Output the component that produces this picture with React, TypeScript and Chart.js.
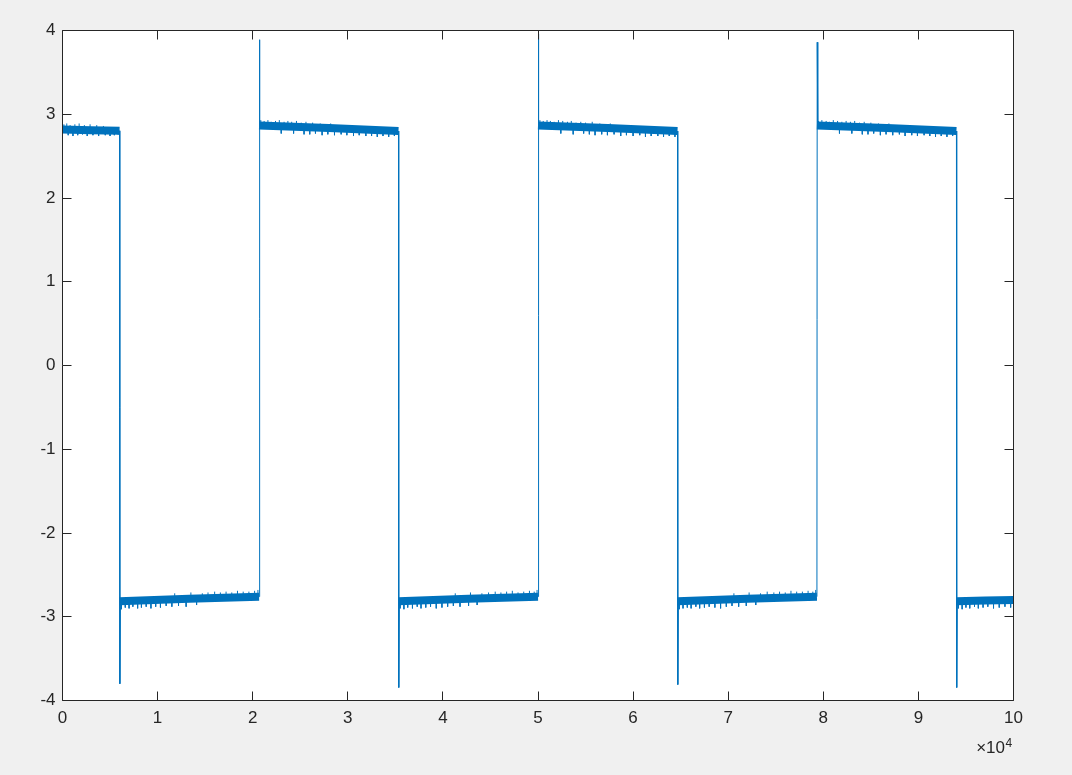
import React, { useEffect, useRef } from "react";
import { Chart, registerables } from "chart.js";

Chart.register(...registerables);

// ---- axis ticks ----
const xTickValues = [0, 10000, 20000, 30000, 40000, 50000, 60000, 70000, 80000, 90000, 100000];
const xTickLabels = ["0", "1", "2", "3", "4", "5", "6", "7", "8", "9", "10"];
const yTickValues = [-4, -3, -2, -1, 0, 1, 2, 3, 4];
const xExponentLabel = "×10";
const xExponent = "4";

// ---- signal level segments (sample index, value) ----
const segStart = [0, 6000, 20670, 35330, 50000, 64670, 79330, 94000];
const segMid = [3000, 13300, 28000, 42660, 57330, 72000, 86660, 97000];
const segEnd = [6000, 20670, 35330, 50000, 64670, 79330, 94000, 100000];
const levelStart = [2.818, -2.815, 2.865, -2.815, 2.865, -2.815, 2.865, -2.815];
const levelMid = [2.81, -2.785, 2.835, -2.785, 2.835, -2.785, 2.835, -2.805];
const levelEnd = [2.803, -2.76, 2.8, -2.76, 2.8, -2.76, 2.8, -2.8];

// ---- switching edges with overshoot spikes ----
const edgeX = [6000, 20670, 35330, 50000, 64670, 79330, 94000];
const edgePeakX = [6030, 20700, 35360, 50030, 64700, 79360, 94030];
const edgePeak = [-3.8, 3.89, -3.845, 3.96, -3.81, 3.86, -3.845];
const edgeSettleX = [6090, 20760, 35420, 50090, 64760, 79420, 94090];

// ---- noise excursions per segment: [sample, tip value] ----
const noiseBase = [2.81, -2.79, 2.835, -2.79, 2.835, -2.79, 2.835, -2.81];
const noiseA = [[150, 2.88], [450, 2.89], [800, 2.87], [1300, 2.88], [1750, 2.89], [2300, 2.87], [2900, 2.88], [3600, 2.87], [4300, 2.86],
  [600, 2.75], [1100, 2.74], [1600, 2.75], [2100, 2.76], [2600, 2.74], [3200, 2.75], [3800, 2.74], [4500, 2.75], [5000, 2.74], [5450, 2.75], [5850, 2.76]];
const noiseB = [[6200, -2.91], [6600, -2.89], [7000, -2.9], [7400, -2.88], [7900, -2.9], [8300, -2.89], [8800, -2.88], [9300, -2.9], [9800, -2.88], [10300, -2.89], [10900, -2.87], [11500, -2.88], [12200, -2.87], [13000, -2.88], [14100, -2.86],
  [11800, -2.72], [13500, -2.71], [14700, -2.72], [15300, -2.71], [16000, -2.7], [16600, -2.71], [17200, -2.7], [17800, -2.71], [18400, -2.69], [19000, -2.7], [19600, -2.7], [20200, -2.69], [20550, -2.68]];
const noiseC = [[20850, 2.93], [21200, 2.92], [21600, 2.93], [21950, 2.91], [22400, 2.92], [22800, 2.93], [23300, 2.91], [23700, 2.92], [24100, 2.91], [24600, 2.92], [25100, 2.9], [25600, 2.91], [26300, 2.9], [27100, 2.89], [28200, 2.89],
  [23000, 2.77], [24300, 2.77], [25400, 2.76], [26000, 2.76], [26600, 2.77], [27300, 2.75], [27900, 2.76], [28600, 2.75], [29300, 2.76], [29900, 2.75], [30600, 2.74], [31200, 2.75], [31900, 2.74], [32500, 2.74], [33100, 2.73], [33700, 2.74], [34300, 2.73], [34900, 2.74]];
const noiseD = [[35500, -2.9], [35900, -2.91], [36300, -2.89], [36800, -2.9], [37300, -2.88], [37700, -2.9], [38200, -2.89], [38700, -2.88], [39300, -2.9], [39900, -2.89], [40500, -2.88], [41100, -2.87], [41800, -2.88], [42700, -2.87], [43600, -2.86],
  [41300, -2.72], [42900, -2.71], [44100, -2.72], [44800, -2.71], [45500, -2.7], [46100, -2.71], [46700, -2.7], [47300, -2.69], [47900, -2.71], [48500, -2.7], [49100, -2.69], [49600, -2.7], [49900, -2.68]];
const noiseE = [[50200, 2.93], [50550, 2.92], [50950, 2.93], [51300, 2.92], [51700, 2.91], [52150, 2.93], [52600, 2.92], [53100, 2.91], [53500, 2.92], [54000, 2.9], [54500, 2.91], [55000, 2.9], [55700, 2.91], [56500, 2.89], [57600, 2.89],
  [52400, 2.77], [53700, 2.76], [54800, 2.77], [55400, 2.76], [56000, 2.75], [56700, 2.76], [57300, 2.75], [58000, 2.76], [58700, 2.74], [59300, 2.75], [60000, 2.74], [60700, 2.75], [61300, 2.73], [61900, 2.74], [62600, 2.74], [63200, 2.73], [63800, 2.74], [64400, 2.73]];
const noiseF = [[64850, -2.91], [65250, -2.9], [65700, -2.89], [66100, -2.9], [66600, -2.88], [67000, -2.9], [67500, -2.89], [68000, -2.88], [68600, -2.89], [69200, -2.9], [69800, -2.88], [70400, -2.87], [71100, -2.88], [71900, -2.87], [72900, -2.86],
  [70600, -2.72], [72200, -2.71], [73400, -2.72], [74100, -2.7], [74800, -2.71], [75400, -2.7], [76000, -2.71], [76600, -2.69], [77200, -2.7], [77800, -2.7], [78400, -2.69], [78900, -2.7], [79200, -2.68]];
const noiseG = [[79500, 2.92], [79850, 2.93], [80300, 2.92], [80650, 2.91], [81050, 2.93], [81500, 2.92], [81950, 2.91], [82400, 2.92], [82850, 2.91], [83300, 2.92], [83800, 2.9], [84300, 2.91], [85000, 2.9], [85800, 2.89], [86900, 2.89],
  [81700, 2.77], [83000, 2.77], [84100, 2.76], [84700, 2.76], [85300, 2.77], [86000, 2.75], [86600, 2.76], [87300, 2.75], [88000, 2.76], [88600, 2.74], [89300, 2.75], [89900, 2.74], [90600, 2.75], [91200, 2.74], [91800, 2.73], [92400, 2.74], [93000, 2.73], [93600, 2.74]];
const noiseH = [[94200, -2.9], [94600, -2.91], [95000, -2.89], [95400, -2.9], [95900, -2.88], [96300, -2.9], [96800, -2.89], [97300, -2.88], [97900, -2.9], [98500, -2.89], [99100, -2.88], [99700, -2.89]];
const noiseSegments = [noiseA, noiseB, noiseC, noiseD, noiseE, noiseF, noiseG, noiseH];

const LINE_COLOR = "#0072BD";
const AXIS_COLOR = "#262626";
const FONT_FAMILY = '"Liberation Sans", Arial, Helvetica, sans-serif';

function buildBand() {
  const pts: any[] = [];
  for (let i = 0; i < segStart.length; i++) {
    pts.push({ x: segStart[i], y: levelStart[i] });
    pts.push({ x: segMid[i], y: levelMid[i] });
    pts.push({ x: segEnd[i], y: levelEnd[i] });
    pts.push({ x: segEnd[i], y: null });
  }
  return pts;
}

function buildEdges() {
  const pts: any[] = [];
  for (let i = 0; i < edgeX.length; i++) {
    pts.push({ x: edgeX[i], y: levelEnd[i] });
    pts.push({ x: edgePeakX[i], y: edgePeak[i] });
    pts.push({ x: edgeSettleX[i], y: levelStart[i + 1] });
    pts.push({ x: edgeSettleX[i], y: null });
  }
  return pts;
}

function buildNoise() {
  const pts: any[] = [];
  noiseSegments.forEach((seg, s) => {
    seg.forEach(([x, tip]) => {
      pts.push({ x, y: noiseBase[s] });
      pts.push({ x, y: tip });
      pts.push({ x, y: null });
    });
  });
  return pts;
}

const framePlugin = {
  id: "matlabFrame",
  beforeDraw(chart: any) {
    const { ctx, chartArea: a } = chart;
    ctx.save();
    ctx.fillStyle = "#ffffff";
    ctx.fillRect(a.left, a.top, a.right - a.left, a.bottom - a.top);
    ctx.restore();
  },
  afterDraw(chart: any) {
    const { ctx, chartArea: a, scales } = chart;
    const L = Math.floor(a.left) + 0.5;
    const R = Math.floor(a.right) + 0.5;
    const T = Math.floor(a.top) + 0.5;
    const B = Math.floor(a.bottom) + 0.5;
    const tl = 9;
    ctx.save();
    ctx.strokeStyle = AXIS_COLOR;
    ctx.lineWidth = 1;
    ctx.beginPath();
    ctx.rect(L, T, R - L, B - T);
    yTickValues.forEach((v) => {
      const py = Math.floor(scales.y.getPixelForValue(v)) + 0.5;
      ctx.moveTo(L, py);
      ctx.lineTo(L + tl, py);
      ctx.moveTo(R, py);
      ctx.lineTo(R - tl, py);
    });
    xTickValues.forEach((v) => {
      const px = Math.floor(scales.x.getPixelForValue(v)) + 0.5;
      ctx.moveTo(px, B);
      ctx.lineTo(px, B - tl);
      ctx.moveTo(px, T);
      ctx.lineTo(px, T + tl);
    });
    ctx.stroke();

    ctx.fillStyle = AXIS_COLOR;
    ctx.textBaseline = "alphabetic";
    ctx.textAlign = "right";
    ctx.font = `17px ${FONT_FAMILY}`;
    ctx.fillText(xExponentLabel, 1005, 753);
    ctx.textAlign = "left";
    ctx.font = `12px ${FONT_FAMILY}`;
    ctx.fillText(xExponent, 1005.5, 747);
    ctx.restore();
  },
};

export default function App() {
  const canvasRef = useRef<HTMLCanvasElement | null>(null);

  useEffect(() => {
    document.body.style.margin = "0";
    const canvas = canvasRef.current;
    if (!canvas) return;
    const chart = new Chart(canvas, {
      type: "line",
      data: {
        datasets: [
          {
            label: "band",
            data: buildBand(),
            borderColor: LINE_COLOR,
            borderWidth: 8,
            borderCapStyle: "butt",
            pointRadius: 0,
            tension: 0,
            spanGaps: false,
          },
          {
            label: "noise",
            data: buildNoise(),
            borderColor: LINE_COLOR,
            borderWidth: 1,
            pointRadius: 0,
            tension: 0,
            spanGaps: false,
          },
          {
            label: "edges",
            data: buildEdges(),
            borderColor: LINE_COLOR,
            borderWidth: 1,
            pointRadius: 0,
            tension: 0,
            spanGaps: false,
          },
        ],
      },
      options: {
        animation: false,
        responsive: false,
        maintainAspectRatio: false,
        events: [],
        layout: { padding: { top: 30.5, right: 58.5, left: 0, bottom: 0 } },
        plugins: {
          legend: { display: false },
          tooltip: { enabled: false },
        },
        scales: {
          x: {
            type: "linear",
            min: 0,
            max: 100000,
            offset: false,
            afterFit: (scale: any) => {
              scale.height = 74.5;
            },
            afterBuildTicks: (scale: any) => {
              scale.ticks = xTickValues.map((v) => ({ value: v }));
            },
            grid: { display: false, drawTicks: false, tickLength: 0 },
            border: { display: false },
            ticks: {
              autoSkip: false,
              maxRotation: 0,
              padding: 8,
              color: AXIS_COLOR,
              font: { family: FONT_FAMILY, size: 17 },
              callback: (v: any) => {
                const i = xTickValues.indexOf(Number(v));
                return i >= 0 ? xTickLabels[i] : "";
              },
            },
          },
          y: {
            type: "linear",
            min: -4,
            max: 4,
            afterFit: (scale: any) => {
              scale.width = 62.5;
            },
            afterBuildTicks: (scale: any) => {
              scale.ticks = yTickValues.map((v) => ({ value: v }));
            },
            grid: { display: false, drawTicks: false, tickLength: 0 },
            border: { display: false },
            ticks: {
              autoSkip: false,
              padding: 7,
              color: AXIS_COLOR,
              font: { family: FONT_FAMILY, size: 17 },
              callback: (v: any) => String(v),
            },
          },
        },
      },
      plugins: [framePlugin],
    });
    return () => chart.destroy();
  }, []);

  return (
    <div
      style={{
        position: "fixed",
        left: 0,
        top: 0,
        width: 1072,
        height: 775,
        background: "#f0f0f0",
      }}
    >
      <canvas ref={canvasRef} width={1072} height={775} style={{ display: "block" }} />
    </div>
  );
}
